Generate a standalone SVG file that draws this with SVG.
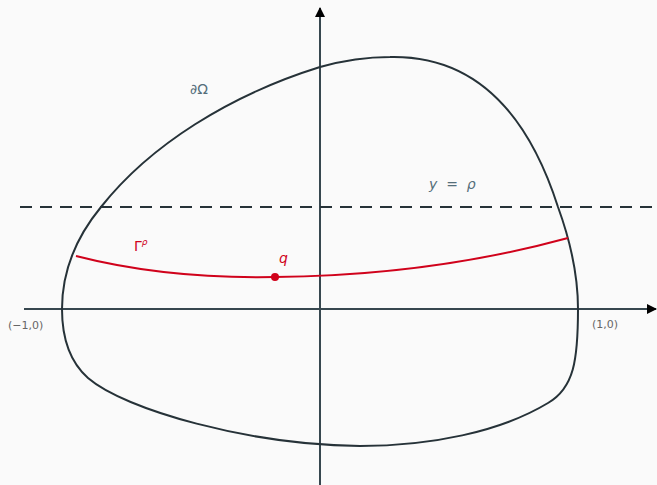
<svg xmlns="http://www.w3.org/2000/svg" width="657" height="485" viewBox="0 0 657 485">
<defs>
<marker id="arr" viewBox="0 0 10 10" refX="9" refY="5" markerWidth="5" markerHeight="5" orient="auto" markerUnits="strokeWidth">
<path d="M0,0 L10,5 L0,10 Z" fill="#000"/>
</marker>
<style>
.axis{stroke:#37474f;stroke-width:2;fill:none}
.bd{stroke:#263238;stroke-width:2;fill:none}
.dash{stroke:#263238;stroke-width:2;stroke-dasharray:12 8;fill:none}
.red{stroke:#d0021b;stroke-width:2;fill:none}
.lbl{font-family:"DejaVu Sans","Noto Sans",sans-serif;fill:#546e7a;font-size:14px}
.sm{font-family:"DejaVu Sans","Noto Sans",sans-serif;fill:#666;font-size:11px}
.rl{font-family:"DejaVu Sans","Noto Sans",sans-serif;fill:#d0021b;font-size:14px}
</style>
</defs>
<rect width="657" height="485" fill="#fafafa"/>
<g id="connectors">
<line class="axis" x1="24" y1="309" x2="656" y2="309" marker-end="url(#arr)"/>
<line class="axis" x1="320" y1="485" x2="320" y2="8" marker-end="url(#arr)"/>
<line class="dash" x1="20" y1="207" x2="657" y2="207"/>
</g>
<g id="boundary">
<path class="bd" d="M62,309 C62,270 78,235 101,207 C150,145 230,95 320,67 C345,60 370,57 390,57 C480,55 530,120 558,207 C570,240 578,275 578,309 C578,360 574,388 548,403 C500,432 430,446 360,446 C250,445 125,410 88,378 C70,362 62,338 62,309 Z"/>
<text class="lbl" x="190" y="94">∂Ω</text>
</g>
<g id="gamma">
<path class="red" d="M76,256 C150,275 220,278 275,277 C380,276 480,262 568,238"/>
<text class="rl" x="134" y="251">Γ<tspan font-size="9" dy="-6" font-style="italic">ρ</tspan></text>
</g>
<g id="q">
<circle cx="275" cy="277" r="4" fill="#d0021b"/>
<text class="rl" x="279" y="263" font-style="italic">q</text>
</g>
<g id="line-label">
<text class="lbl" x="429" y="189" xml:space="preserve"><tspan font-style="italic">y</tspan>  =  <tspan font-style="italic">ρ</tspan></text>
</g>
<g id="points">
<text class="sm" x="8" y="329">(−1,0)</text>
<text class="sm" x="592" y="328">(1,0)</text>
</g>
</svg>
